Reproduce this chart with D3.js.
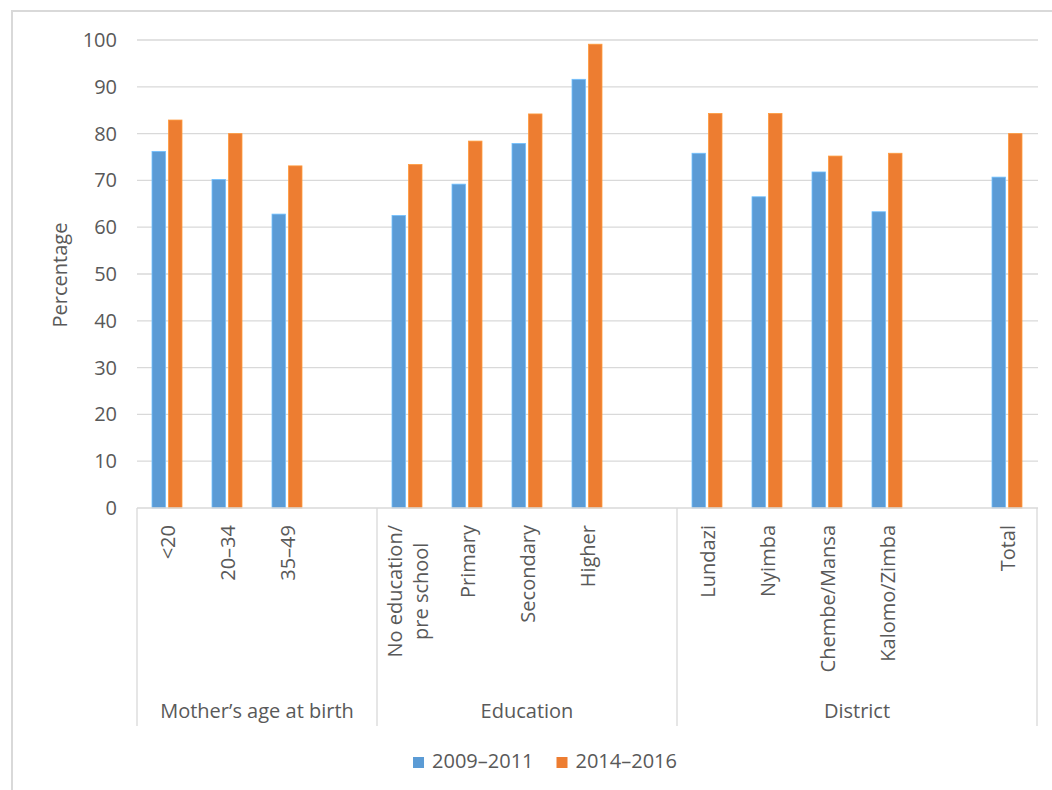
<!DOCTYPE html>
<html>
<head>
<meta charset="utf-8">
<script src="https://cdn.jsdelivr.net/npm/d3@7"></script>
<style>
  html, body { margin: 0; padding: 0; background: #fff; }
  svg { display: block; }
  text { font-family: "Open Sans", "Liberation Sans", sans-serif; fill: #595959; }
</style>
</head>
<body>
<svg id="chart" width="1052" height="790"></svg>
<script>
// Category slots along the x axis (empty strings are spacer slots)
const categories = ["<20", "20–34", "35–49", "",
  "No education/\npre school", "Primary", "Secondary", "Higher", "",
  "Lundazi", "Nyimba", "Chembe/Mansa", "Kalomo/Zimba", "", "Total"];

// Outer category groups and how many slots each one covers
const groupNames = ["Mother’s age at birth", "Education", "District"];
const groupSpans = [4, 5, 6];

// Series
const seriesNames = ["2009–2011", "2014–2016"];
const values2009 = [76.2, 70.2, 62.8, null, 62.5, 69.2, 77.9, 91.6, null, 75.8, 66.5, 71.8, 63.3, null, 70.7];
const values2014 = [82.9, 80.0, 73.1, null, 73.4, 78.4, 84.2, 99.1, null, 84.3, 84.3, 75.2, 75.8, null, 80.0];
const seriesColors = ["#5B9BD5", "#ED7D31"];

// Y axis ticks
const yTicks = [0, 10, 20, 30, 40, 50, 60, 70, 80, 90, 100];

const svg = d3.select("#chart");
const fontSize = 20;
const plot = { left: 137, right: 1037, top: 40, bottom: 508 };

// Chart frame
svg.append("rect")
  .attr("x", 12).attr("y", 11)
  .attr("width", 1200).attr("height", 900)
  .attr("fill", "none").attr("stroke", "#d9d9d9").attr("stroke-width", 2);

const y = d3.scaleLinear().domain([0, 100]).range([plot.bottom, plot.top]);
const x0 = d3.scaleBand().domain(d3.range(categories.length)).range([plot.left, plot.right]).padding(0);
const x1 = d3.scaleBand().domain(seriesNames).range([15, 45]).paddingInner(0.18).paddingOuter(0);

// Gridlines
svg.append("g").selectAll("line").data(yTicks.filter(d => d > 0)).join("line")
  .attr("x1", plot.left).attr("x2", plot.right + 1)
  .attr("y1", d => y(d)).attr("y2", d => y(d))
  .attr("stroke", "#d9d9d9").attr("stroke-width", 1.3);

// Y tick labels
svg.append("g").selectAll("text").data(yTicks).join("text")
  .attr("x", 117).attr("y", d => y(d) + 7)
  .attr("text-anchor", "end")
  .style("font-size", fontSize + "px")
  .text(d => d);

// Y axis title
svg.append("text")
  .attr("transform", "translate(67,275) rotate(-90)")
  .attr("text-anchor", "middle")
  .style("font-size", fontSize + "px")
  .text("Percentage");

// Bars
const seriesValues = [values2009, values2014];
const barData = [];
categories.forEach((c, i) => {
  seriesNames.forEach((s, k) => {
    const v = seriesValues[k][i];
    if (v != null) barData.push({ i, s, k, v });
  });
});
svg.append("g").selectAll("rect").data(barData).join("rect")
  .attr("x", d => x0(d.i) + x1(d.s))
  .attr("width", x1.bandwidth())
  .attr("y", d => y(d.v))
  .attr("height", d => y(0) - y(d.v))
  .attr("fill", d => seriesColors[d.k])
  .attr("stroke", d => d3.color(seriesColors[d.k]).brighter(0.6))
  .attr("stroke-width", 0.8);

// Category axis line and group dividers
svg.append("line")
  .attr("x1", plot.left).attr("x2", plot.right + 1)
  .attr("y1", plot.bottom).attr("y2", plot.bottom)
  .attr("stroke", "#d9d9d9").attr("stroke-width", 1.3);

const bounds = [0];
groupSpans.forEach(s => bounds.push(bounds[bounds.length - 1] + s));
const divX = bounds.map(b => b < categories.length ? x0(b) : plot.right);
svg.append("g").selectAll("line").data(divX).join("line")
  .attr("x1", d => d).attr("x2", d => d)
  .attr("y1", plot.bottom).attr("y2", 726)
  .attr("stroke", "#d9d9d9").attr("stroke-width", 1.3);

// Rotated category labels
const labelTop = 525, lineH = 26;
const catG = svg.append("g");
categories.forEach((c, i) => {
  if (!c) return;
  const lines = c.split("\n");
  const cx = x0(i) + x0.bandwidth() / 2;
  const g = catG.append("g");
  const texts = lines.map((ln, j) => g.append("text")
    .style("font-size", fontSize + "px")
    .text(ln));
  const maxLen = d3.max(texts, t => t.node().getComputedTextLength());
  texts.forEach((t, j) => {
    const bx = cx + 8 + (j - (lines.length - 1) / 2) * lineH;
    if (lines.length === 1) {
      t.attr("text-anchor", "end")
        .attr("transform", `translate(${bx},${labelTop}) rotate(-90)`);
    } else {
      t.attr("text-anchor", "middle")
        .attr("transform", `translate(${bx},${labelTop + maxLen / 2}) rotate(-90)`);
    }
  });
});

// Group labels
svg.append("g").selectAll("text").data(groupNames).join("text")
  .attr("x", (d, g) => (divX[g] + divX[g + 1]) / 2)
  .attr("y", 718)
  .attr("text-anchor", "middle")
  .style("font-size", fontSize + "px")
  .text(d => d);

// Legend
const legend = svg.append("g");
const items = seriesNames.map((s, k) => {
  const it = legend.append("g");
  it.append("rect").attr("width", 11).attr("height", 11).attr("y", 757).attr("fill", seriesColors[k]);
  const t = it.append("text").attr("x", 19).attr("y", 768).style("font-size", fontSize + "px").text(s);
  return { it, w: 19 + t.node().getComputedTextLength() };
});
const gap = 23;
const totalW = d3.sum(items, d => d.w) + gap * (items.length - 1);
let lx = 545 - totalW / 2;
items.forEach(d => { d.it.attr("transform", `translate(${lx},0)`); lx += d.w + gap; });
</script>
</body>
</html>
